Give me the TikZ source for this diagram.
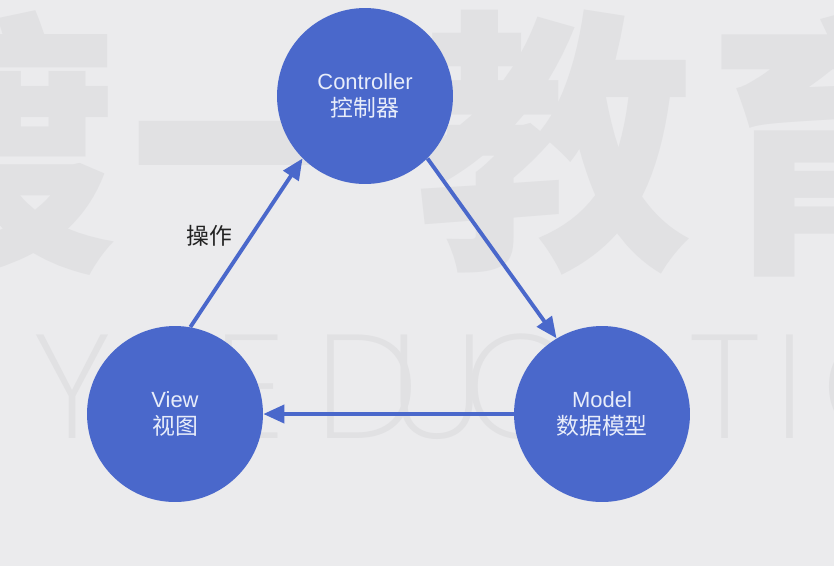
\documentclass[tikz,border=0pt]{standalone}
\usepackage{fontspec}
\setmainfont{Liberation Sans}
\newfontfamily\cjk{Noto Sans CJK SC}
\newfontfamily\wmlatin{Poppins}[UprightFont={* ExtraLight}]
\usetikzlibrary{arrows.meta,positioning,calc}
\definecolor{Paper}{HTML}{EBEBED}
\definecolor{Mark}{HTML}{E1E1E3}
\definecolor{MvcBlue}{HTML}{4A68CB}
\definecolor{MvcText}{HTML}{E8EDFA}
\definecolor{Ink}{HTML}{222222}
\tikzset{
  mvc/.style={circle,fill=MvcBlue,minimum size=3.52cm,inner sep=0pt,text=MvcText,align=center,font=\fontsize{12.5}{15.6}\selectfont},
  flow/.style={draw=MvcBlue,line width=2.2pt,-{Triangle[length=4.2mm,width=3.6mm]}}
}

\begin{document}
\begin{tikzpicture}[x=0.02cm,y=-0.02cm]
\useasboundingbox (0,0) rectangle (834,566);
\clip (0,0) rectangle (834,566);
\fill[Paper] (0,0) rectangle (834,566);
\foreach \x/\y/\s [count=\i] in {-22/143/渡,268/186/一,554/143/教,846/143/育} {\node[text=Mark,inner sep=0pt,font=\cjk\bfseries\fontsize{158}{160}\selectfont] (wmcn\i) at (\x,\y) {\s};}
\foreach \x/\s [count=\i] in {-40/U,72/Y,160/I,250/E,367/D,437/U,520/C,610/A,725/T,790/I,880/O} {\node[anchor=base,text=Mark,inner sep=0pt,font=\wmlatin\fontsize{84}{90}\selectfont] (wmen\i) at (\x,438) {\s};}
\node[mvc] (ctrl) at (365,96) {Controller\\{\cjk\fontsize{13}{15.6}\selectfont 控制器}};
\node[mvc] (view) at (175,414) {View\\{\cjk\fontsize{13}{15.6}\selectfont 视图}};
\node[mvc] (model) at (602,414) {Model\\{\cjk\fontsize{13}{15.6}\selectfont 数据模型}};
\draw[flow] (view.80) -- (ctrl.225);
\draw[flow] (ctrl.-45) -- (model.121);
\draw[flow] (model.west) -- (view.east);
\node[text=Ink,font=\cjk\fontsize{13}{15}\selectfont] (op) at (209,236) {操作};
\end{tikzpicture}
\end{document}
